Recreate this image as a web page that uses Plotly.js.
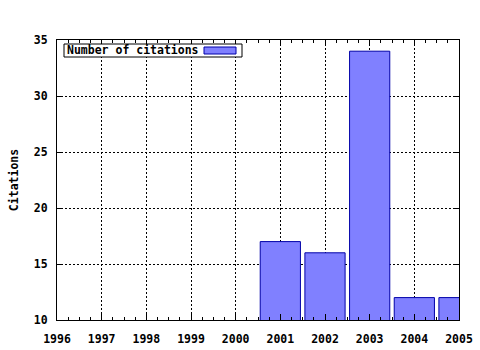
<!DOCTYPE html>
<html>
<head>
<meta charset="utf-8">
<script src="https://cdn.plot.ly/plotly-3.0.1.min.js"></script>
<style>html,body{margin:0;padding:0;background:#fff;}#chart{width:480px;height:350px;}</style>
</head>
<body>
<div id="chart"></div>
<script>
const years = [2001, 2002, 2003, 2004, 2005];
const citations = [17, 16, 34, 12, 12];
const xTickVals = [1996, 1997, 1998, 1999, 2000, 2001, 2002, 2003, 2004, 2005];
const yTickVals = [10, 15, 20, 25, 30, 35];
const seriesName = "Number of citations";

const FONT = "DejaVu Sans Mono, monospace";
const fillColor = "#8080ff";
const edgeColor = "#0000a8";

const trace = {
  type: "bar",
  x: years,
  y: citations,
  width: 0.9,
  name: seriesName,
  marker: {color: fillColor, line: {color: edgeColor, width: 1}},
  showlegend: false,
  hoverinfo: "none"
};

const axisCommon = {
  showline: true, linecolor: "#000", linewidth: 1, mirror: "ticks",
  ticks: "inside", ticklen: 6, tickcolor: "#000", tickwidth: 1,
  showgrid: true, gridcolor: "#000", gridwidth: 1, griddash: "2px,2px",
  zeroline: false,
  tickfont: {family: FONT, size: 11.5, color: "#000", weight: "bold"}
};

const layout = {
  width: 480, height: 350,
  margin: {l: 57, r: 21, t: 40, b: 30},
  paper_bgcolor: "#fff", plot_bgcolor: "#fff",
  font: {family: FONT, size: 11.5, color: "#000", weight: "bold"},
  bargap: 0,
  xaxis: Object.assign({}, axisCommon, {
    range: [1996, 2005], tickvals: xTickVals, ticktext: xTickVals.map(String),
    ticklabelstandoff: 8,
    minor: {dtick: 0.25, tick0: 1996, ticks: "inside", ticklen: 3, tickcolor: "#000", showgrid: false}
  }),
  yaxis: Object.assign({}, axisCommon, {
    range: [10, 35], tickvals: yTickVals, ticktext: yTickVals.map(String),
    ticklabelstandoff: 6,
    title: {text: "Citations", font: {family: FONT, size: 11.5, color: "#000", weight: "bold"}, standoff: 12}
  }),
  shapes: [
    {type: "rect", xref: "paper", yref: "paper", x0: 7/402, x1: 185/402, y0: 1 - 17/280, y1: 1 - 4/280,
     line: {color: "#000", width: 1}, fillcolor: "#fff", layer: "above"},
    {type: "rect", xref: "paper", yref: "paper", x0: 147/402, x1: 179/402, y0: 1 - 14/280, y1: 1 - 7/280,
     line: {color: edgeColor, width: 1}, fillcolor: fillColor, layer: "above"}
  ],
  annotations: [
    {xref: "paper", yref: "paper", x: 8/402, y: 1 - 10.5/280, xanchor: "left", yanchor: "middle",
     text: seriesName, showarrow: false,
     font: {family: FONT, size: 11.5, color: "#000", weight: "bold"}}
  ]
};

Plotly.newPlot("chart", [trace], layout, {staticPlot: true, displayModeBar: false});
</script>
</body>
</html>
